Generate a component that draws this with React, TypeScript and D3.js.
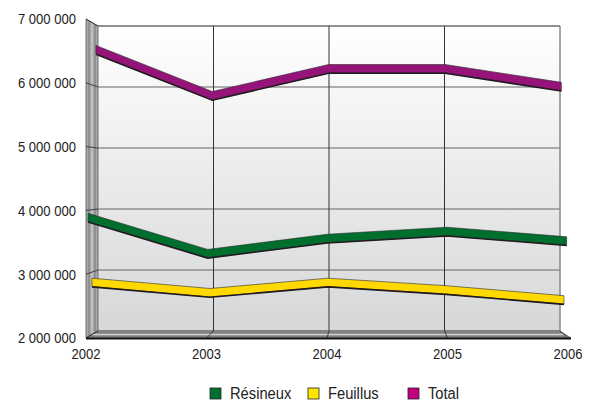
import React, { useEffect, useRef } from 'react';
import * as d3 from 'd3';

const years = ['2002', '2003', '2004', '2005', '2006'];
const resineux = [3800000, 3230000, 3470000, 3580000, 3430000];
const feuillus = [2750000, 2585000, 2750000, 2630000, 2470000];
const total = [6510000, 5760000, 6200000, 6200000, 5910000];
const yTicks = [2000000, 3000000, 4000000, 5000000, 6000000, 7000000];

const series = [
  { name: 'Total', values: total, color: '#961479', legend: '#C4007F', depth: 0.83 },
  { name: 'Feuillus', values: feuillus, color: '#FFD800', legend: '#FFE600', depth: 0.5 },
  { name: 'Résineux', values: resineux, color: '#006F2E', legend: '#00702F', depth: 0.17 },
];
const legendOrder = ['Résineux', 'Feuillus', 'Total'];

const W = 594;
const H = 401;

const App: React.FC = () => {
  const ref = useRef<SVGSVGElement>(null);

  useEffect(() => {
    if (!ref.current) return;
    const svg = d3.select(ref.current);
    svg.selectAll('*').remove();

    const font = "'Liberation Sans', Arial, sans-serif";
    const fmt = d3.formatLocale({ thousands: ' ', grouping: [3], decimal: ',', currency: ['', ''] }).format(',');

    // front plane (z = 0) and back wall (z = 1)
    const xFront = d3.scalePoint<string>().domain(years).range([86, 568]);
    const xBack = d3.scalePoint<string>().domain(years).range([98, 560]);
    const yFront = d3.scaleLinear().domain([2000000, 7000000]).range([338, 19]);
    const yBack = d3.scaleLinear().domain([2000000, 7000000]).range([331, 26]);
    const lerp = (a: number, b: number, t: number) => a + (b - a) * t;
    const px = (yr: string, z: number) => lerp(xFront(yr)!, xBack(yr)!, z);
    const py = (v: number, z: number) => lerp(yFront(v), yBack(v), z);

    const first = years[0];
    const last = years[years.length - 1];
    const vMin = yTicks[0];
    const vMax = yTicks[yTicks.length - 1];

    const defs = svg.append('defs');
    const wallGrad = defs.append('linearGradient').attr('id', 'wall').attr('x1', 0).attr('y1', 0).attr('x2', 0).attr('y2', 1);
    wallGrad.append('stop').attr('offset', '0%').attr('stop-color', '#ffffff');
    wallGrad.append('stop').attr('offset', '100%').attr('stop-color', '#d6d7d8');

    // back wall
    svg.append('rect')
      .attr('x', xBack(first)!)
      .attr('y', yBack(vMax))
      .attr('width', xBack(last)! - xBack(first)!)
      .attr('height', yBack(vMin) - yBack(vMax))
      .attr('fill', 'url(#wall)');

    // horizontal grid on back wall
    svg.selectAll('.hgrid')
      .data(yTicks)
      .enter()
      .append('line')
      .attr('x1', xBack(first)!)
      .attr('x2', xBack(last)!)
      .attr('y1', d => yBack(d))
      .attr('y2', d => yBack(d))
      .attr('stroke', d => (d === vMax ? '#222' : '#666'))
      .attr('stroke-width', 1);

    // vertical grid on back wall
    svg.selectAll('.vgrid')
      .data(years.slice(1))
      .enter()
      .append('line')
      .attr('x1', d => xBack(d)!)
      .attr('x2', d => xBack(d)!)
      .attr('y1', yBack(vMax))
      .attr('y2', yBack(vMin))
      .attr('stroke', d => (d === last ? '#888' : '#333'))
      .attr('stroke-width', d => (d === last ? 1.5 : 1));

    // left wall
    const leftWall: [number, number][] = [
      [px(first, 0), py(vMax, 0)],
      [px(first, 1), py(vMax, 1)],
      [px(first, 1), py(vMin, 1)],
      [px(first, 0), py(vMin, 0)],
    ];
    svg.append('polygon')
      .attr('points', leftWall.map(p => p.join(',')).join(' '))
      .attr('fill', '#a9a9a9')
      .attr('stroke', '#555')
      .attr('stroke-width', 0.8);
    [0.25, 0.5, 0.75].forEach(z => {
      svg.append('line')
        .attr('x1', px(first, z)).attr('x2', px(first, z))
        .attr('y1', py(vMax, z)).attr('y2', py(vMin, z))
        .attr('stroke', z === 0.5 ? '#dcdcdc' : '#6a6a6a')
        .attr('stroke-width', 0.8);
    });
    svg.selectAll('.wtick')
      .data(yTicks)
      .enter()
      .append('line')
      .attr('x1', px(first, 0))
      .attr('x2', px(first, 1))
      .attr('y1', d => py(d, 0))
      .attr('y2', d => py(d, 1))
      .attr('stroke', '#333')
      .attr('stroke-width', 0.9);

    // floor
    const floor: [number, number][] = [
      [px(first, 0), py(vMin, 0)],
      [px(first, 1), py(vMin, 1)],
      [px(last, 1), py(vMin, 1)],
      [px(last, 0) + 3, py(vMin, 0)],
    ];
    svg.append('polygon')
      .attr('points', floor.map(p => p.join(',')).join(' '))
      .attr('fill', '#a3a3a3')
      .attr('stroke', '#555')
      .attr('stroke-width', 0.8);
    [0.25, 0.5, 0.75].forEach(z => {
      svg.append('line')
        .attr('x1', px(first, z)).attr('x2', px(last, z))
        .attr('y1', py(vMin, z)).attr('y2', py(vMin, z))
        .attr('stroke', z === 0.5 ? '#dcdcdc' : '#666')
        .attr('stroke-width', 0.8);
    });
    svg.selectAll('.ftick')
      .data(years)
      .enter()
      .append('line')
      .attr('x1', d => px(d, 0))
      .attr('x2', d => px(d, 1))
      .attr('y1', py(vMin, 0))
      .attr('y2', py(vMin, 1))
      .attr('stroke', '#333')
      .attr('stroke-width', 0.9);
    svg.append('line')
      .attr('x1', px(first, 0)).attr('x2', px(last, 0) + 3)
      .attr('y1', py(vMin, 0) + 0.5).attr('y2', py(vMin, 0) + 0.5)
      .attr('stroke', '#111')
      .attr('stroke-width', 2);

    // ribbons
    const thick = 9.5;
    series.forEach(s => {
      const pts = s.values.map((v, i) => [px(years[i], s.depth), py(v, s.depth)] as [number, number]);
      const area = d3.area<[number, number]>()
        .x(d => d[0])
        .y0(d => d[1] - 1)
        .y1(d => d[1] - thick);
      svg.append('path')
        .attr('d', area(pts)!)
        .attr('fill', s.color)
        .attr('stroke', '#2b2b2b')
        .attr('stroke-width', 0.6);
      const bottom = d3.line<[number, number]>().x(d => d[0]).y(d => d[1] - 0.8);
      svg.append('path')
        .attr('d', bottom(pts)!)
        .attr('fill', 'none')
        .attr('stroke', '#221a20')
        .attr('stroke-width', 1.6);
    });

    // y tick labels (condensed look)
    svg.selectAll('.ylab')
      .data(yTicks)
      .enter()
      .append('g')
      .attr('transform', d => `translate(76,${yFront(d) + 1.5}) scale(0.87,1)`)
      .append('text')
      .attr('text-anchor', 'end')
      .attr('dominant-baseline', 'middle')
      .attr('font-family', font)
      .attr('font-size', 15)
      .attr('fill', '#222')
      .text(d => fmt(d));

    // x tick labels
    svg.selectAll('.xlab')
      .data(years)
      .enter()
      .append('g')
      .attr('transform', d => `translate(${xFront(d)!},359) scale(0.87,1)`)
      .append('text')
      .attr('text-anchor', 'middle')
      .attr('font-family', font)
      .attr('font-size', 15)
      .attr('fill', '#222')
      .text(d => d);

    // legend
    const legendX = [210, 308, 408];
    legendOrder.forEach((name, i) => {
      const s = series.find(d => d.name === name)!;
      const g = svg.append('g').attr('transform', `translate(${legendX[i]},388)`);
      g.append('rect')
        .attr('width', 11)
        .attr('height', 11)
        .attr('fill', s.legend)
        .attr('stroke', '#222')
        .attr('stroke-width', 0.8);
      g.append('g')
        .attr('transform', 'translate(20,11) scale(0.92,1)')
        .append('text')
        .attr('font-family', font)
        .attr('font-size', 16)
        .attr('fill', '#222')
        .text(name);
    });
  }, []);

  return (
    <svg
      ref={ref}
      width={W}
      height={H}
      style={{ position: 'absolute', left: 0, top: 0, background: '#fff' }}
    />
  );
};

export default App;
